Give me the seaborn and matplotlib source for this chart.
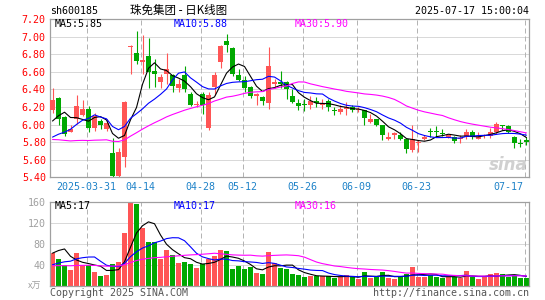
import numpy as np
import pandas as pd
import matplotlib
matplotlib.use("Agg")
import matplotlib.pyplot as plt
import matplotlib.transforms as mtransforms
import seaborn as sns

# daily candles 2025-03-21 .. 2025-07-17 (80 sessions)
opens = [6.16, 6.30, 6.08, 5.92, 6.06, 6.11, 6.18, 5.96, 6.04, 5.95,
         5.68, 5.41, 5.63, 6.88, 6.81, 6.71, 6.78, 6.61, 6.48, 6.57,
         6.56, 6.42, 6.56, 6.35, 6.22, 6.35, 5.96, 6.43, 6.71, 6.95,
         6.87, 6.56, 6.51, 6.43, 6.33, 6.31, 6.25, 6.46, 6.48, 6.48,
         6.33, 6.25, 6.23, 6.22, 6.26, 6.22, 6.27, 6.16, 6.14, 6.18,
         6.20, 6.16, 6.16, 6.03, 6.06, 5.99, 5.83, 5.88, 5.88, 5.83,
         5.71, 5.79, 5.83, 5.92, 5.92, 5.90, 5.86, 5.86, 5.83, 5.86,
         5.92, 5.84, 5.87, 5.87, 5.91, 5.99, 5.98, 5.86, 5.79, 5.82]
highs = [6.41, 6.31, 6.10, 5.99, 6.34, 6.28, 6.21, 6.13, 6.06, 6.06,
         5.85, 5.73, 6.27, 6.90, 7.06, 7.02, 6.98, 6.75, 6.58, 6.81,
         6.57, 6.52, 6.66, 6.37, 6.27, 6.37, 6.37, 6.60, 6.91, 7.03,
         6.88, 6.63, 6.55, 6.44, 6.36, 6.33, 6.88, 6.52, 6.61, 6.49,
         6.40, 6.29, 6.29, 6.32, 6.31, 6.29, 6.29, 6.20, 6.22, 6.26,
         6.22, 6.20, 6.17, 6.12, 6.06, 6.00, 5.91, 5.92, 5.92, 5.84,
         5.99, 5.82, 5.88, 5.96, 5.98, 5.95, 5.89, 5.87, 5.88, 5.95,
         5.94, 5.91, 5.89, 5.96, 6.03, 6.00, 5.99, 5.87, 5.83, 5.86]
lows = [6.13, 5.99, 5.87, 5.91, 6.01, 6.10, 5.92, 5.93, 5.95, 5.93,
        5.40, 5.40, 5.52, 6.58, 6.69, 6.58, 6.41, 6.43, 6.42, 6.46,
        6.37, 6.37, 6.37, 6.21, 6.20, 6.12, 5.94, 6.34, 6.64, 6.82,
        6.55, 6.50, 6.37, 6.30, 6.22, 6.22, 6.18, 6.42, 6.42, 6.29,
        6.25, 6.16, 6.15, 6.18, 6.20, 6.18, 6.15, 6.11, 6.12, 6.11,
        6.14, 6.14, 6.00, 6.02, 5.98, 5.82, 5.82, 5.83, 5.82, 5.68,
        5.69, 5.69, 5.82, 5.86, 5.86, 5.87, 5.85, 5.79, 5.79, 5.84,
        5.84, 5.83, 5.85, 5.85, 5.89, 5.94, 5.90, 5.73, 5.74, 5.77]
closes = [6.28, 6.06, 5.89, 5.95, 6.21, 6.18, 5.96, 6.10, 6.00, 6.02,
          5.41, 5.69, 6.26, 6.89, 6.72, 6.73, 6.60, 6.57, 6.54, 6.63,
          6.44, 6.46, 6.40, 6.22, 6.23, 6.22, 6.34, 6.56, 6.89, 6.91,
          6.57, 6.51, 6.42, 6.33, 6.35, 6.27, 6.67, 6.48, 6.46, 6.40,
          6.26, 6.21, 6.22, 6.27, 6.25, 6.25, 6.20, 6.15, 6.18, 6.20,
          6.17, 6.18, 6.07, 6.06, 6.00, 5.88, 5.86, 5.90, 5.84, 5.72,
          5.83, 5.80, 5.86, 5.91, 5.91, 5.89, 5.88, 5.81, 5.85, 5.92,
          5.86, 5.86, 5.88, 5.92, 6.01, 5.98, 5.91, 5.79, 5.78, 5.80]
volumes = [62, 51, 40, 30, 62, 40, 39, 26, 19, 21,
           41, 46, 101, 158, 156, 110, 83, 83, 51, 68,
           58, 44, 46, 41, 34, 41, 50, 57, 68, 66,
           32, 38, 31, 35, 25, 22, 65, 43, 34, 32,
           22, 20, 17, 18, 18, 19, 18, 14, 17, 20,
           17, 13, 26, 15, 17, 26, 15, 13, 16, 22,
           36, 17, 17, 20, 17, 15, 17, 17, 15, 28,
           16, 13, 17, 22, 24, 22, 17, 20, 15, 15]

# 29 sessions before the window, estimated from where the MA lines start
pre_close = [6.15, 6.10, 6.14, 6.08, 6.12, 6.02, 5.98, 5.95, 5.94, 5.90,
             5.78, 5.70, 5.62, 5.55, 5.50, 5.48, 5.52, 5.58, 5.60, 5.62,
             5.73, 5.66, 5.62, 5.66, 5.70, 5.76, 5.69, 6.25, 6.22]
pre_vol = [45, 40, 38, 42, 35, 33, 36, 40, 44, 38,
           36, 34, 32, 38, 35, 37, 40, 36, 33, 28,
           20, 16, 18, 17, 19, 26, 25, 100, 97]

tick_idx = [6, 15, 25, 32, 42, 51, 61, 79]
tick_labels = ["2025-03-31", "04-14", "04-28", "05-12", "05-26", "06-09", "06-23", "07-17"]
price_ticks = [5.40, 5.60, 5.80, 6.00, 6.20, 6.40, 6.60, 6.80, 7.00, 7.20]
vol_ticks = [40, 80, 120, 160]

UP = "#ff5555"
DOWN = "#00a800"
FRAME = "#a0a0a0"
GRID = "#b4b4b4"

sns.set_style("white")
plt.rcParams['font.family'] = ['DejaVu Sans Mono', 'Noto Sans CJK SC']

n = len(closes)
x = np.arange(n)
o = np.array(opens); c = np.array(closes)
h = np.array(highs); l = np.array(lows)
v = np.array(volumes)
cols = [UP if c[i] >= o[i] else DOWN for i in range(n)]

cs = pd.Series(pre_close + closes)
vs = pd.Series(pre_vol + volumes)
k = len(pre_close)
ma = {p: cs.rolling(p).mean().values[k:] for p in (5, 10, 30)}
vma = {p: vs.rolling(p).mean().values[k:] for p in (5, 10, 30)}
ma_cols = {5: "black", 10: "#0000ff", 30: "#ff00ff"}

W, H = 545, 300
fig = plt.figure(figsize=(W / 100, H / 100), dpi=100)
fig.patch.set_facecolor("white")
ax = fig.add_axes([50 / W, (H - 177.3) / H, 479 / W, (177.3 - 19) / H])
axv = fig.add_axes([50 / W, (H - 285.7) / H, 479 / W, 84 / H])

xlim = (-0.42, 79.42)
vx = np.array(tick_idx) - 0.3

# price panel
ax.hlines(price_ticks[1:-1], xlim[0], xlim[1], colors=GRID, lw=0.72, linestyles=(0, (1, 1)), zorder=1)
ax.vlines(vx, 5.40, 7.20, colors=GRID, lw=0.72, linestyles=(0, (5, 3)), zorder=1)
ax.vlines(x, l, h, colors=cols, lw=0.8, zorder=2)
ax.bar(x, np.maximum(np.abs(c - o), 0.012), bottom=np.minimum(o, c), width=0.83,
       color=cols, linewidth=0, zorder=3)
for p in (5, 10, 30):
    sns.lineplot(x=x, y=ma[p], ax=ax, color=ma_cols[p], lw=0.8, zorder=4)
ax.set_xlim(*xlim)
ax.set_ylim(5.40, 7.20)
ax.set_yticks(price_ticks)
ax.set_yticklabels([f"{t:.2f}" for t in price_ticks])
ax.tick_params(axis='y', length=0, pad=3, labelcolor="#ff0000", labelsize=7.2)
ax.set_xticks([])
ax.set_xlabel(""); ax.set_ylabel("")

# volume panel
axv.hlines(vol_ticks[:-1], xlim[0], xlim[1], colors=GRID, lw=0.72, linestyles=(0, (1, 1)), zorder=1)
axv.vlines(vx, 0, 160, colors=GRID, lw=0.72, linestyles=(0, (5, 3)), zorder=1)
axv.bar(x, v, width=0.83, color=cols, linewidth=0, zorder=2)
for p in (5, 10, 30):
    sns.lineplot(x=x, y=vma[p], ax=axv, color=ma_cols[p], lw=0.8, zorder=4)
axv.set_xlim(*xlim)
axv.set_ylim(0, 160)
axv.set_yticks(vol_ticks)
axv.set_yticklabels([str(t) for t in vol_ticks])
axv.tick_params(axis='y', length=0, pad=3, labelcolor="#a0a0a0", labelsize=7.2)
axv.set_xticks([])
axv.set_xlabel(""); axv.set_ylabel("")

for a in (ax, axv):
    for s in a.spines.values():
        s.set_color(FRAME)
        s.set_linewidth(0.9)

# date labels
tr = mtransforms.blended_transform_factory(ax.transData, fig.transFigure)
for i, (xi, lab) in enumerate(zip(vx, tick_labels)):
    if i == len(tick_labels) - 1:
        ax.text(xlim[1] - 1.0, 1 - 186.7 / H, lab, transform=tr, ha='right', va='center',
                color="#1e82c8", fontsize=7.2)
    else:
        ax.text(xi, 1 - 186.7 / H, lab, transform=tr, ha='center', va='center',
                color="#1e82c8", fontsize=7.2)

# MA legends
ax.text(5 / 479, (177.3 - 23.7) / 158.3, "MA5:5.85", transform=ax.transAxes, color="black",
        fontsize=7.2, va='center')
ax.text(124 / 479, (177.3 - 23.7) / 158.3, "MA10:5.88", transform=ax.transAxes, color="#0000ff",
        fontsize=7.2, va='center')
ax.text(245 / 479, (177.3 - 23.7) / 158.3, "MA30:5.90", transform=ax.transAxes, color="#ff00ff",
        fontsize=7.2, va='center')
axv.text(5 / 479, (285.7 - 206) / 84, "MA5:17", transform=axv.transAxes, color="black",
         fontsize=7.2, va='center')
axv.text(124 / 479, (285.7 - 206) / 84, "MA10:17", transform=axv.transAxes, color="#0000ff",
         fontsize=7.2, va='center')
axv.text(245 / 479, (285.7 - 206) / 84, "MA30:16", transform=axv.transAxes, color="#ff00ff",
         fontsize=7.2, va='center')

# header / footer texts
fig.text(50 / W, 1 - 11 / H, "sh600185", ha='left', va='center', fontsize=7.2, color="black")
fig.text(178.5 / W, 1 - 10.5 / H, "珠免集团 - 日K线图", ha='center', va='center', fontsize=8.3,
         color="black", family=['Noto Sans CJK SC', 'DejaVu Sans'])
fig.text(529 / W, 1 - 11 / H, "2025-07-17 15:00:04", ha='right', va='center', fontsize=7.2, color="black")
fig.text(28 / W, 1 - 286 / H, "x万", ha='left', va='center', fontsize=6.5, color="#a0a0a0",
         family=['Noto Sans CJK SC', 'DejaVu Sans'])
fig.text(50 / W, 1 - 292.5 / H, "Copyright 2025 SINA.COM", ha='left', va='center', fontsize=7.2,
         color="#555555")
fig.text(529 / W, 1 - 292.5 / H, "http://finance.sina.com.cn", ha='right', va='center', fontsize=7.2,
         color="#555555")
# watermark
fig.text(528 / W, 1 - 165 / H, "sina", ha='right', va='center', fontsize=12, color="#d0d0d0",
         style='italic', weight='bold', family=['DejaVu Sans'])

fig.savefig("out.png", dpi=100, facecolor="white")
